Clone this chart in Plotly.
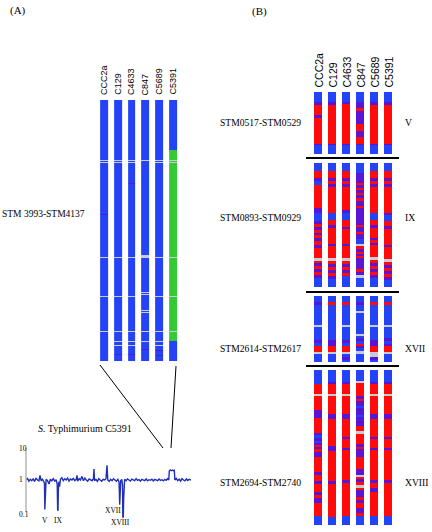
import plotly.graph_objects as go

W, H = 432, 532

# ---------------- data ----------------
strains = ["CCC2a", "C129", "C4633", "C847", "C5689", "C5391"]

# status codes per probe, run-length encoded: B present, R absent, P divergent, G amplified, W no data
region_a_runs = [
    [("B",60),("W",1),("B",1),("W",1),("B",51),("P",1),("B",42),("W",1),("B",38),("W",1),("B",34),("W",1),("B",29)],
    [("B",60),("W",1),("B",1),("W",1),("B",94),("W",1),("B",38),("W",1),("B",34),("W",1),("B",9),("W",1),("B",3),("W",1),("B",8),("P",1),("B",6)],
    [("B",60),("W",1),("B",1),("W",1),("B",20),("P",1),("B",73),("W",1),("B",38),("W",1),("B",34),("W",1),("B",9),("W",1),("B",3),("W",1),("B",8),("P",1),("B",6)],
    [("B",60),("W",1),("B",94),("W",3),("B",34),("W",1),("B",1),("W",1),("B",15),("W",1),("B",1),("W",1),("B",18),("W",1),("B",9),("W",1),("B",7),("P",1),("B",11)],
    [("B",60),("W",1),("B",1),("W",1),("B",94),("W",1),("B",38),("W",1),("B",34),("W",1),("B",9),("W",1),("B",3),("W",1),("B",4),("P",1),("B",4),("P",1),("B",5)],
    [("B",50),("G",10),("W",1),("G",1),("W",1),("G",94),("W",1),("G",38),("W",1),("G",34),("W",1),("G",9),("B",20)],
]

region_v_runs = [
    [("B",10),("P",3),("R",10),("P",3),("R",26),("P",1),("B",9)],
    [("B",10),("P",3),("R",39),("P",1),("B",9)],
    [("B",10),("P",2),("R",40),("P",1),("B",9)],
    [("B",10),("P",6),("R",3),("P",13),("R",7),("P",6),("R",7),("P",1),("B",9)],
    [("B",10),("P",3),("R",39),("P",1),("B",9)],
    [("B",10),("P",3),("R",39),("P",1),("B",9)],
]

region_ix_runs = [
    [("B",8),("R",7),("P",3),("B",4),("R",23),("P",5),("B",8),("P",3),("R",3),("P",3),("R",3),("P",2),("R",3),("P",3),("R",4),("P",3),("R",10),("W",3),("R",2),("P",3),("R",3),("P",3),("R",3),("P",3),("B",9)],
    [("B",8),("R",7),("P",3),("R",3),("P",3),("R",26),("B",7),("R",5),("P",3),("R",16),("P",2),("R",12),("W",3),("R",3),("P",3),("R",3),("P",3),("R",3),("P",3),("B",8)],
    [("B",8),("R",7),("P",3),("R",3),("P",3),("R",23),("P",3),("B",7),("R",7),("P",2),("R",15),("P",2),("R",12),("W",3),("R",3),("P",3),("R",3),("P",3),("R",3),("B",11)],
    [("B",10),("P",10),("R",2),("P",3),("R",2),("P",3),("R",2),("P",3),("R",3),("P",5),("R",2),("P",17),("R",2),("P",5),("R",2),("P",5),("B",5),("W",2),("R",3),("P",3),("R",2),("P",2),("R",2),("P",11),("R",3),("P",3),("W",3),("B",9)],
    [("B",8),("R",7),("P",3),("R",3),("P",3),("R",26),("B",7),("R",5),("P",3),("R",10),("P",2),("R",3),("P",2),("R",12),("W",3),("R",3),("P",3),("R",3),("P",3),("R",3),("P",3),("B",9)],
    [("B",8),("R",7),("P",3),("R",3),("P",3),("R",26),("P",2),("B",6),("R",5),("P",3),("R",16),("P",2),("R",12),("W",3),("R",3),("P",3),("R",3),("P",3),("R",3),("P",3),("B",7)],
]

region_xvii_runs = [
    [("B",6),("P",3),("B",20),("W",2),("B",13),("P",3),("B",3),("R",6),("W",2),("B",8)],
    [("B",6),("R",3),("B",35),("P",6),("R",6),("W",2),("B",8)],
    [("B",6),("R",3),("B",20),("W",2),("B",13),("P",3),("B",3),("R",6),("W",2),("B",3),("P",3),("B",2)],
    [("B",6),("P",3),("B",6),("W",2),("B",21),("W",2),("B",2),("P",3),("B",3),("R",2),("P",2),("B",3),("W",3),("B",8)],
    [("B",6),("R",3),("B",20),("W",2),("B",13),("P",6),("R",6),("W",5),("P",3),("B",2)],
    [("B",6),("R",3),("B",20),("W",2),("B",11),("P",3),("B",3),("P",2),("R",6),("W",2),("B",8)],
]

region_xviii_runs = [
    [("B",14),("R",10),("W",2),("R",14),("P",8),("R",15),("P",2),("B",3),("P",3),("B",2),("P",2),("R",2),("P",2),("R",3),("P",5),("R",15),("P",3),("R",6),("P",3),("R",8),("P",3),("R",3),("P",5),("R",13),("B",9)],
    [("B",12),("P",2),("R",10),("W",2),("R",18),("P",5),("R",27),("P",5),("R",30),("P",3),("R",33),("B",8)],
    [("B",12),("P",2),("R",10),("W",2),("R",18),("P",5),("R",18),("P",2),("R",9),("P",2),("R",30),("P",3),("R",33),("B",9)],
    [("B",11),("W",2),("R",13),("P",3),("R",2),("P",5),("B",2),("P",7),("B",2),("P",9),("R",5),("W",3),("R",10),("P",3),("R",2),("P",8),("R",12),("P",6),("W",2),("R",2),("P",3),("R",3),("W",3),("R",2),("P",7),("R",3),("P",3),("R",5),("P",5),("R",3),("B",9)],
    [("B",12),("P",2),("R",10),("W",2),("R",18),("P",5),("R",18),("P",2),("R",9),("P",2),("R",30),("P",3),("R",5),("P",4),("R",24),("B",9)],
    [("B",12),("P",2),("R",10),("W",2),("R",18),("P",5),("R",18),("P",2),("R",9),("P",2),("R",30),("P",3),("R",33),("B",9)],
]

region_labels = ["STM0517-STM0529", "STM0893-STM0929", "STM2614-STM2617", "STM2694-STM2740"]
region_numerals = ["V", "IX", "XVII", "XVIII"]

# C5391 genome-wide ratio profile (gene index, ratio)
probe_pos = [
    0, 40, 80, 120, 160, 200, 240, 280, 320, 360,
    390, 420, 460, 500, 515, 525, 535, 545, 560, 600,
    641, 680, 720, 760, 800, 840, 870, 882, 892, 902,
    915, 935, 960, 1000, 1040, 1080, 1120, 1160, 1200, 1240,
    1280, 1320, 1360, 1400, 1422, 1440, 1480, 1520, 1560, 1600,
    1640, 1680, 1720, 1760, 1800, 1840, 1880, 1896, 1910, 1950,
    1990, 2030, 2070, 2110, 2150, 2190, 2230, 2258, 2280, 2320,
    2360, 2400, 2440, 2480, 2520, 2560, 2595, 2612, 2622, 2640,
    2670, 2690, 2700, 2712, 2722, 2735, 2750, 2790, 2830, 2870,
    2910, 2950, 2990, 3030, 3070, 3110, 3150, 3190, 3230, 3270,
    3310, 3350, 3390, 3430, 3470, 3510, 3550, 3590, 3630, 3670,
    3710, 3750, 3790, 3830, 3870, 3910, 3950, 3980, 3995, 4020,
    4050, 4080, 4110, 4135, 4150, 4190, 4230, 4270, 4310, 4350,
    4390, 4430, 4470, 4510, 4550, 4600,
]
ratio = [
    1.00, 1.12, 0.92, 1.05, 0.95, 1.08, 0.90, 1.15, 1.00, 0.94,
    1.40, 0.95, 1.06, 0.92, 0.80, 0.12, 0.35, 0.90, 1.05, 0.95,
    0.75, 1.06, 0.94, 1.10, 0.92, 1.02, 0.75, 0.12, 0.11, 0.45,
    0.88, 0.62, 1.05, 1.18, 0.95, 1.10, 1.00, 1.15, 0.93, 1.08,
    1.00, 1.12, 0.95, 1.05, 1.40, 0.92, 1.10, 1.00, 1.30, 0.95,
    1.15, 1.00, 0.92, 1.08, 1.00, 0.95, 1.10, 2.20, 0.95, 1.05,
    0.90, 1.10, 1.00, 0.92, 1.05, 1.00, 1.10, 2.90, 1.00, 0.90,
    1.05, 0.95, 1.10, 1.00, 0.92, 1.05, 0.85, 0.17, 0.60, 0.95,
    1.05, 0.70, 0.07, 0.07, 0.25, 0.80, 1.05, 0.95, 1.08, 1.00,
    0.93, 1.06, 1.00, 0.95, 1.10, 0.97, 1.03, 0.92, 1.05, 1.00,
    0.96, 1.08, 0.94, 1.02, 0.98, 1.06, 0.93, 1.04, 1.00, 0.95,
    1.07, 0.97, 1.02, 0.94, 1.05, 0.98, 1.10, 1.00, 1.90, 2.05,
    1.95, 2.05, 1.95, 2.00, 1.00, 1.12, 0.95, 1.06, 0.92, 1.10,
    1.00, 0.94, 1.08, 0.96, 1.05, 1.00,
]
ratio_ticktext = ["0.1", "1", "10"]

# ---------------- helpers ----------------
CODES = {"B": 0, "R": 1, "P": 2, "G": 3, "W": 4}
COLORS = ["#2443f7", "#ff0b0b", "#5a14d4", "#35c935", "#c8cad8"]
colorscale = []
for i, c in enumerate(COLORS):
    colorscale += [[i / 5, c], [(i + 1) / 5, c]]


def expand(runs):
    out = []
    for code, n in runs:
        out += [CODES[code]] * n
    return out


def matrix(cols):
    ex = [expand(c) for c in cols]
    return [list(r) for r in zip(*ex)]


def clamp(v):
    return min(1.0, max(0.0, v))


def fx(p):
    return clamp(p / W)


def fy(p):
    return clamp(1 - p / H)


SERIF = "Liberation Serif"
SANS = "Liberation Sans"


def label(text, x, y, size, family=SERIF, xanchor="center"):
    return dict(text=text, x=fx(x), y=fy(y), xref="paper", yref="paper",
                xanchor=xanchor, yanchor="middle", showarrow=False,
                font=dict(family=family, size=size, color="black"))


fig = go.Figure()
layout = dict(width=W, height=H, margin=dict(l=0, r=0, t=0, b=0, pad=0),
              paper_bgcolor="white", plot_bgcolor="rgba(0,0,0,0)", showlegend=False)

# heatmap blocks: (runs, x-domain px, y-domain px)
blocks = [
    (region_a_runs, (97.1, 179.9), (100, 361)),
    (region_v_runs, (311, 395), (92, 154)),
    (region_ix_runs, (311, 395), (163, 287)),
    (region_xvii_runs, (311, 395), (296, 362)),
    (region_xviii_runs, (311, 395), (370, 525)),
]

for k, (runs, xd, yd) in enumerate(blocks, start=1):
    z = matrix(runs)
    n = len(z)
    sfx = "" if k == 1 else str(k)
    fig.add_trace(go.Heatmap(
        z=z, x=list(range(len(strains))), y=list(range(n)),
        colorscale=colorscale, zmin=-0.5, zmax=4.5, showscale=False,
        xgap=6, ygap=0, hoverinfo="skip",
        xaxis="x" + sfx, yaxis="y" + sfx))
    layout["xaxis" + sfx] = dict(domain=[fx(xd[0]), fx(xd[1])], range=[-0.5, len(strains) - 0.5],
                                 visible=False, anchor="y" + sfx)
    layout["yaxis" + sfx] = dict(domain=[fy(yd[1]), fy(yd[0])], range=[n - 0.5, -0.5],
                                 visible=False, anchor="x" + sfx)

# line profile
fig.add_trace(go.Scatter(x=probe_pos, y=ratio, mode="lines",
                         line=dict(color="#1f2fb8", width=1.4),
                         hoverinfo="skip", xaxis="x6", yaxis="y6"))
layout["xaxis6"] = dict(domain=[fx(26), fx(191)], range=[0, 4600], visible=False, anchor="y6")
layout["yaxis6"] = dict(domain=[fy(520), fy(444)], type="log", range=[-1.25, 1.125],
                        visible=False, anchor="x6")

annotations = [label("(A)", 18, 10, 11), label("(B)", 259.5, 11.5, 11)]

for i, s in enumerate(strains):
    annotations.append(dict(text=s, x=i, xref="x", y=fy(97), yref="paper", textangle=-90,
                            xanchor="center", yanchor="bottom", showarrow=False,
                            font=dict(family=SANS, size=9, color="black")))
    annotations.append(dict(text=s, x=i, xref="x2", y=fy(90), yref="paper", textangle=-90,
                            xanchor="center", yanchor="bottom", showarrow=False,
                            font=dict(family=SANS, size=10.5, color="black")))

annotations.append(label("STM 3993-STM4137", 87, 214, 9.5, xanchor="right"))

label_y = [122, 217, 348, 482]
for lab, num, yy in zip(region_labels, region_numerals, label_y):
    annotations.append(label(lab, 303, yy, 9.6, xanchor="right"))
    annotations.append(label(num, 402.5, yy, 9.6, xanchor="left"))

annotations.append(label("<i>S.</i> Typhimurium C5391", 85, 428, 10))

for t, yy in zip(ratio_ticktext, [514, 479, 448]):
    annotations.append(label(t, 17, yy, 7.5, xanchor="left"))

for t, xx, yy in [("V", 44.5, 520), ("IX", 58.5, 520), ("XVII", 113.5, 510.5), ("XVIII", 120.5, 522.5)]:
    annotations.append(label(t, xx, yy, 7.5))

layout["annotations"] = annotations

shapes = []
for yy in [158, 292, 366]:
    shapes.append(dict(type="line", xref="paper", yref="paper", x0=fx(306), x1=fx(399),
                       y0=fy(yy), y1=fy(yy), line=dict(color="black", width=2)))
shapes.append(dict(type="line", xref="paper", yref="paper", x0=fx(26), x1=fx(26),
                   y0=fy(448), y1=fy(512), line=dict(color="#b4b4b4", width=1.5)))
shapes.append(dict(type="line", xref="paper", yref="paper", x0=fx(100), y0=fy(365),
                   x1=fx(163), y1=fy(448), line=dict(color="black", width=1)))
shapes.append(dict(type="line", xref="paper", yref="paper", x0=fx(176), y0=fy(366),
                   x1=fx(171), y1=fy(448), line=dict(color="black", width=1)))
layout["shapes"] = shapes

fig.update_layout(**layout)
# remove the page's default body margin so the 432x532 figure fills the window exactly
fig.write_html("out.html", config={"displayModeBar": False},
               post_script="document.body.style.margin='0';document.body.style.overflow='hidden';")
